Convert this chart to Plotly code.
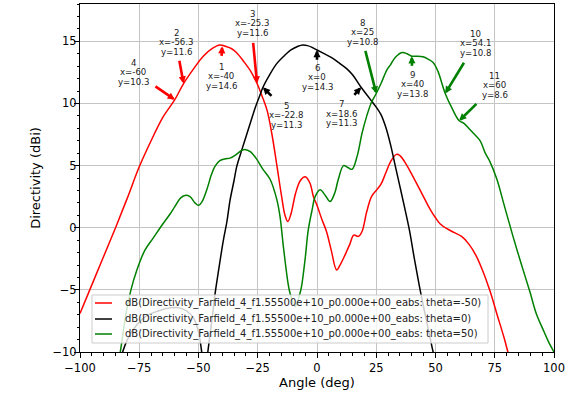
import plotly.graph_objects as go

# ---------------- data ----------------
red_x = [-100, -95, -90, -85, -80, -75, -70, -65, -60, -56.3, -52, -48, -44, -41, -38, -36, -34, -31, -28, -25.3,
         -23, -21, -19, -17, -15, -13.5, -12.3, -11, -9, -7, -5, -3, -1.5, 0, 2, 4, 6, 8.3, 10, 11.8, 13.9, 15.5,
         17.5, 19, 21, 23, 25, 27, 29, 31, 33.5, 35, 37, 40, 43, 46, 48, 50, 52, 55, 58, 61, 64, 67, 70, 73, 76,
         79, 81, 83]
red_y = [-6.9, -4.6, -2.3, 0.0, 2.4, 4.9, 7.0, 8.9, 10.3, 11.6, 12.8, 13.8, 14.45, 14.7, 14.55, 14.4, 14.1, 13.4,
         12.6, 11.6, 10.5, 9.4, 7.5, 5.1, 2.6, 1.0, 0.5, 1.1, 2.8, 3.8, 4.1, 3.6, 2.5, 1.8, 0.7, -0.3, -1.8, -3.4,
         -2.9, -2.2, -1.3, -0.6, -0.7, -0.3, 1.3, 2.5, 3.0, 3.5, 4.4, 5.3, 5.9, 5.8, 5.3, 4.3, 3.2, 2.1, 1.4, 0.8,
         0.3, -0.1, -0.4, -0.7, -1.3, -2.2, -3.5, -5.1, -7.0, -8.9, -10.3, -11.5]

black_x = [-83, -80, -76, -72, -67, -62, -58, -55, -52, -50, -48.5, -47.3, -46.2, -45, -44, -43, -41.5, -39.5,
           -38, -36.7, -35, -33.9, -32, -30, -28, -26, -24, -22.8, -20, -17, -14, -11, -8, -6, -4, -2, 0, 3, 6,
           9, 12.5, 15, 18.6, 21, 23, 25, 27, 29, 31, 33, 35, 37, 39, 41, 43, 45, 47, 49, 51]
black_y = [-10.6, -9.0, -7.8, -7.1, -6.7, -6.45, -6.45, -6.7, -7.3, -8.4, -10.2, -12.0, -10.2, -8.4, -6.9, -5.3,
           -3.4, -1.0, 0.5, 2.2, 3.8, 4.9, 6.1, 7.3, 8.5, 9.7, 10.7, 11.3, 12.3, 13.2, 13.8, 14.3, 14.6, 14.7,
           14.65, 14.5, 14.3, 14.0, 13.7, 13.3, 12.8, 12.3, 11.3, 10.7, 10.2, 9.7, 9.1, 8.1, 6.7, 5.0, 3.3, 1.6,
           -0.2, -2.4, -4.5, -6.4, -8.2, -10.0, -11.5]

green_x = [-84, -83, -80.5, -78.5, -76, -72.6, -69, -65.8, -62, -60, -57.5, -55.7, -53.6, -51.5, -50, -48.5,
           -46.5, -44.5, -43, -41, -38.5, -36.7, -34, -32, -30.4, -28, -25.4, -22.8, -19.8, -17, -15.6, -14.2,
           -12.2, -11.4, -9.3, -7.2, -6.5, -5, -3.7, -2, -0.8, 1.3, 3.5, 5.5, 7.5, 9, 11.2, 13, 14.8, 17, 19, 21,
           23, 25, 27, 29.5, 31, 33, 35.9, 38, 40, 42, 44.7, 47, 49, 51, 54.1, 57, 60, 62, 64, 66, 68.8, 71, 73,
           75.9, 79, 82.7, 86, 89.9, 92.5, 95.4, 97.5, 100]
green_y = [-11.0, -10.0, -6.8, -5.0, -3.4, -1.8, -0.8, 0.1, 1.1, 1.7, 2.4, 2.6, 2.5, 2.0, 1.8, 2.1, 3.06, 4.3,
           4.95, 5.4, 5.55, 5.6, 5.9, 6.2, 6.3, 6.1, 5.5, 4.7, 3.9, 2.3, 0.9, -1.5, -4.5, -5.25, -6.35, -5.3,
           -4.7, -2.5, -0.2, 1.5, 2.5, 3.06, 2.6, 2.1, 2.8, 3.9, 5.0, 4.85, 4.7, 5.8, 7.6, 9.0, 10.1, 10.8, 11.6,
           12.7, 13.1, 13.7, 14.1, 14.0, 13.8, 13.8, 13.75, 13.55, 13.3, 12.6, 10.8, 9.6, 8.6, 8.4, 8.0, 7.6, 7.0,
           6.0, 5.3, 3.9, 1.8, -0.7, -2.8, -5.2, -6.9, -8.2, -9.1, -10.0]

series_names = [
    "dB(Directivity_Farfield_4_f1.55500e+10_p0.000e+00_eabs: theta=-50)",
    "dB(Directivity_Farfield_4_f1.55500e+10_p0.000e+00_eabs: theta=0)",
    "dB(Directivity_Farfield_4_f1.55500e+10_p0.000e+00_eabs: theta=50)",
]
series_colors = ["#ff0000", "#000000", "#008000"]

# annotated markers (data points)
marker_ids = [1, 2, 3, 4, 5, 6, 7, 8, 9, 10, 11]
marker_x = [-40, -56.3, -25.3, -60, -22.8, 0, 18.6, 25, 40, 54.1, 60]
marker_y = [14.6, 11.6, 11.6, 10.3, 11.3, 14.3, 11.3, 10.8, 13.8, 10.8, 8.6]
marker_series = [0, 0, 0, 0, 1, 1, 1, 2, 2, 2, 2]

# ---------------- layout helpers (positions of labels / arrow tails) ----------------
label_pos = [(-40.5, 12.18), (-59.1, 14.92), (-27.4, 16.45), (-77.6, 12.5), (-12.7, 9.03), (0, 12.1),
             (10.5, 9.19), (19.0, 15.73), (40.5, 11.53), (66.7, 14.84), (75.1, 11.45)]
arrow_tail = [(-40.3, 13.71), (-58.2, 13.55), (-27.0, 15.0), (-68.8, 11.45), (-18.6, 10.48), (0, 13.39),
              (15.2, 10.56), (20.25, 14.35), (40.1, 12.9), (62.4, 13.39), (67.9, 10.08)]

FONT = "DejaVu Sans"

fig = go.Figure()
for xs, ys, name, col in zip([red_x, black_x, green_x], [red_y, black_y, green_y], series_names, series_colors):
    fig.add_trace(go.Scatter(x=xs, y=ys, mode="lines", name=name, showlegend=False,
                             line=dict(color=col, width=1.5, shape="spline", smoothing=1.0)))

annotations = []
line_gap = 9.5
for i, mid in enumerate(marker_ids):
    mx, my = marker_x[i], marker_y[i]
    col = series_colors[marker_series[i]]
    tx, ty = arrow_tail[i]
    annotations.append(dict(x=mx, y=my, xref="x", yref="y", ax=tx, ay=ty, axref="x", ayref="y",
                            text="", showarrow=True, arrowhead=2, arrowsize=0.55, arrowwidth=2.6,
                            arrowcolor=col, standoff=0, startstandoff=0))
    lines = [str(mid), f"x={mx:g}", f"y={my:g}"]
    lx, ly = label_pos[i]
    for k, t in enumerate(lines):
        annotations.append(dict(x=lx, y=ly, xref="x", yref="y", text=t, showarrow=False,
                                yshift=line_gap * (1 - k), xanchor="center", yanchor="middle",
                                font=dict(family=FONT, size=8.6, color="#222222")))

# manual legend (matplotlib style: compact rows, semi-transparent box)
leg_box = dict(x0=0.0253, x1=0.8608, y0=0.0259, y1=0.1638)
leg_rows_y = [0.1408, 0.0948, 0.0517]
leg_line_x = (0.0316, 0.0675)
leg_text_x = 0.0907
shapes = [dict(type="rect", xref="paper", yref="paper", layer="above",
               fillcolor="rgba(255,255,255,0.8)", line=dict(color="#cccccc", width=1), **leg_box)]
for name, col, yy in zip(series_names, series_colors, leg_rows_y):
    shapes.append(dict(type="line", xref="paper", yref="paper", layer="above",
                       x0=leg_line_x[0], x1=leg_line_x[1], y0=yy, y1=yy, line=dict(color=col, width=1.5)))
    annotations.append(dict(x=leg_text_x, y=yy, xref="paper", yref="paper", text=name, showarrow=False,
                            xanchor="left", yanchor="middle",
                            font=dict(family=FONT, size=10, color="#222222")))

fig.update_layout(
    width=582, height=394,
    margin=dict(l=80, r=28, t=4, b=42),
    paper_bgcolor="white", plot_bgcolor="white",
    font=dict(family=FONT, size=11, color="#000000"),
    showlegend=False,
    annotations=annotations,
    shapes=shapes,
)
fig.update_xaxes(range=[-100, 100], dtick=25, tick0=0, showgrid=True, gridcolor="#c4c4c4", gridwidth=1,
                 zeroline=False, showline=True, linecolor="black", linewidth=1, mirror=True,
                 ticks="outside", ticklen=5, tickcolor="black",
                 minor=dict(dtick=5, ticks="outside", ticklen=2.5, tickcolor="black", showgrid=False),
                 title=dict(text="Angle (deg)", font=dict(family=FONT, size=13), standoff=4),
                 tickfont=dict(family=FONT, size=11.5), automargin=False)
fig.update_yaxes(range=[-10, 18], dtick=5, tick0=0, showgrid=True, gridcolor="#c4c4c4", gridwidth=1,
                 zeroline=False, showline=True, linecolor="black", linewidth=1, mirror=True,
                 ticks="outside", ticklen=5, tickcolor="black", ticklabelstandoff=-5,
                 minor=dict(dtick=1, ticks="outside", ticklen=2.5, tickcolor="black", showgrid=False),
                 title=dict(text="Directivity (dBi)", font=dict(family=FONT, size=13), standoff=8),
                 tickfont=dict(family=FONT, size=11.5), automargin=False)

fig.write_html("out.html")
